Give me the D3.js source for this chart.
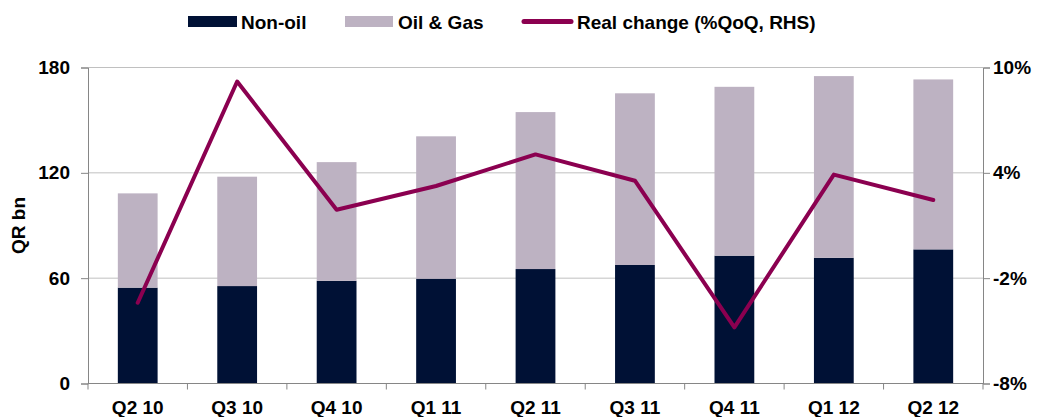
<!doctype html>
<html>
  <head>
    <script src="https://cdnjs.cloudflare.com/ajax/libs/d3/7.8.5/d3.min.js"></script>
    <style>
      body { margin: 0; background: #fff; }
      text { font-family: "Liberation Sans", Arial, sans-serif; font-weight: bold; fill: #000; }
    </style>
  </head>
  <body>
    <svg width="1040" height="417"></svg>
    <script>
        var quarters = ["Q2 10", "Q3 10", "Q4 10", "Q1 11", "Q2 11", "Q3 11", "Q4 11", "Q1 12", "Q2 12"];
        var nonOil = [54.6, 55.5, 58.5, 59.7, 65.2, 67.5, 72.8, 71.6, 76.4];
        var oilGas = [53.7, 62.3, 67.6, 81.1, 89.4, 97.8, 96.2, 103.5, 96.8];
        var realChange = [-3.4, 9.2, 1.9, 3.25, 5.05, 3.55, -4.8, 3.9, 2.45];
        var leftTicks = [0, 60, 120, 180];
        var rightTicks = [-8, -2, 4, 10];

        var svg = d3.select("svg");
        var plotLeft = 88, plotRight = 983, plotTop = 67.5, plotBottom = 383.5;

        var x = d3.scaleBand().domain(quarters).range([plotLeft, plotRight]).paddingInner(0.6).paddingOuter(0.3);
        var xBand = d3.scaleBand().domain(quarters).range([plotLeft, plotRight]);
        var y = d3.scaleLinear().domain([0, 180]).range([plotBottom, plotTop]);
        var y2 = d3.scaleLinear().domain([-8, 10]).range([plotBottom, plotTop]);

        // gridlines
        svg.append("g").selectAll("line")
            .data(leftTicks.slice(1))
            .enter().append("line")
                .attr("x1", plotLeft).attr("x2", plotRight)
                .attr("y1", d => y(d)).attr("y2", d => y(d))
                .attr("stroke", "#c0c0c0").attr("stroke-width", 1);

        // stacked bars
        var stacked = quarters.map((q, i) => ({q: q, nonOil: nonOil[i], oilGas: oilGas[i]}));
        var series = d3.stack().keys(["nonOil", "oilGas"])(stacked);
        var colours = {nonOil: "#001135", oilGas: "#bdb2c2"};

        svg.append("g").selectAll("g")
            .data(series)
            .enter().append("g")
                .attr("fill", d => colours[d.key])
            .selectAll("rect")
            .data(d => d)
            .enter().append("rect")
                .attr("x", d => x(d.data.q))
                .attr("width", x.bandwidth())
                .attr("y", d => y(d[1]))
                .attr("height", d => y(d[0]) - y(d[1]));

        // axes
        var axisColour = "#868686";
        var gLeft = svg.append("g").attr("transform", "translate(" + plotLeft + ",0)")
            .call(d3.axisLeft(y).tickValues(leftTicks).tickSize(7).tickPadding(11));
        var gRight = svg.append("g").attr("transform", "translate(" + plotRight + ",0)")
            .call(d3.axisRight(y2).tickValues(rightTicks).tickSize(7).tickPadding(3).tickFormat(d => d + "%"));
        var gBottom = svg.append("g").attr("transform", "translate(0," + plotBottom + ")")
            .call(d3.axisBottom(xBand).tickSize(0).tickPadding(17));

        [gLeft, gRight, gBottom].forEach(g => {
            g.select(".domain").attr("stroke", axisColour);
            g.selectAll(".tick line").attr("stroke", axisColour);
            g.selectAll("text").attr("font-size", 19).attr("font-family", "Liberation Sans, Arial, sans-serif")
                .attr("font-weight", "bold").attr("fill", "#000");
        });
        gBottom.select(".domain").attr("d", "M" + plotLeft + ",0H" + plotRight);

        // category boundary ticks
        var bounds = quarters.map(q => xBand(q)).concat([plotRight]);
        svg.append("g").selectAll("line")
            .data(bounds)
            .enter().append("line")
                .attr("x1", d => d).attr("x2", d => d)
                .attr("y1", plotBottom).attr("y2", plotBottom + 6)
                .attr("stroke", axisColour);

        // line
        var line = d3.line()
            .x((d, i) => xBand(quarters[i]) + xBand.bandwidth() / 2)
            .y(d => y2(d));
        svg.append("path")
            .datum(realChange)
            .attr("d", line)
            .attr("fill", "none")
            .attr("stroke", "#8b0050")
            .attr("stroke-width", 4)
            .attr("stroke-linejoin", "round")
            .attr("stroke-linecap", "round");

        // y label
        svg.append("text")
            .attr("transform", "translate(25," + ((plotTop + plotBottom) / 2) + ") rotate(-90)")
            .attr("text-anchor", "middle")
            .attr("font-size", 19)
            .text("QR bn");

        // legend
        var legend = svg.append("g");
        legend.append("rect").attr("x", 188).attr("y", 16).attr("width", 49).attr("height", 11).attr("fill", colours.nonOil);
        legend.append("text").attr("x", 241).attr("y", 29).attr("font-size", 19).text("Non-oil");
        legend.append("rect").attr("x", 345).attr("y", 16).attr("width", 48).attr("height", 11).attr("fill", colours.oilGas);
        legend.append("text").attr("x", 398).attr("y", 29).attr("font-size", 19).text("Oil & Gas");
        legend.append("line").attr("x1", 524).attr("x2", 571).attr("y1", 21.5).attr("y2", 21.5)
            .attr("stroke", "#8b0050").attr("stroke-width", 5).attr("stroke-linecap", "round");
        legend.append("text").attr("x", 577).attr("y", 29).attr("font-size", 19).text("Real change (%QoQ, RHS)");
    </script>
  </body>
</html>
